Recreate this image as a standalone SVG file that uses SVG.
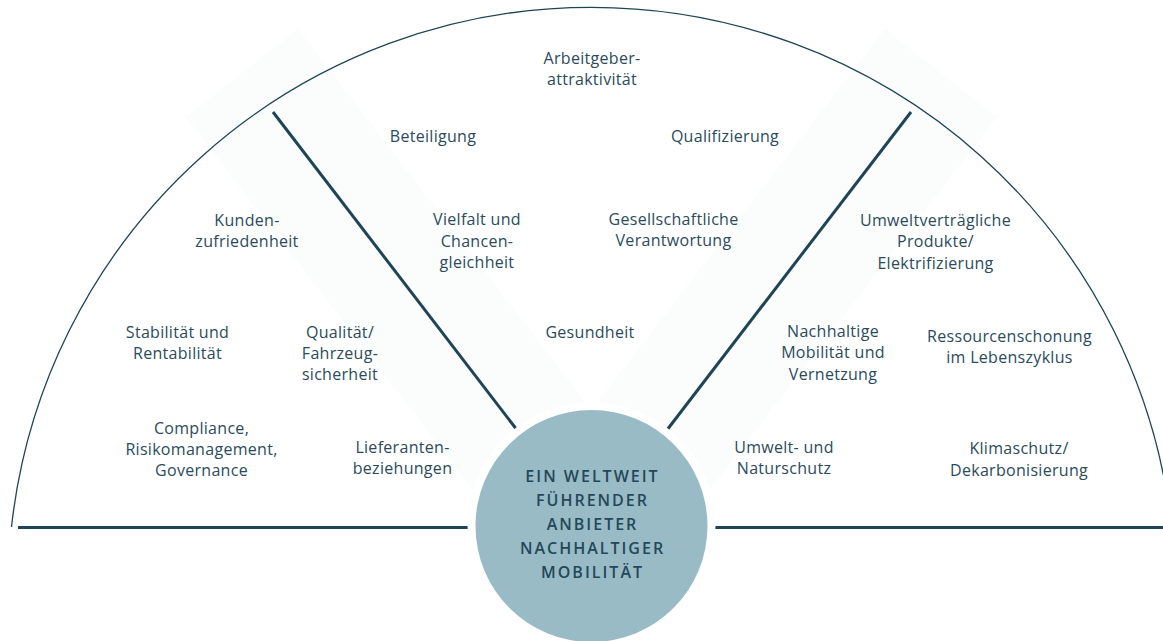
<svg xmlns="http://www.w3.org/2000/svg" width="1163" height="641" viewBox="0 0 1163 641">
<style>
.t{font-family:"Open Sans","Noto Sans","Liberation Sans",sans-serif;font-size:16px;fill:#2b4b5c;text-anchor:middle;letter-spacing:0.3px}
.c{font-family:"Open Sans","Noto Sans","Liberation Sans",sans-serif;font-size:16px;font-weight:600;fill:#24485a;text-anchor:middle;letter-spacing:2px}
.band{fill:#fbfcfc}
.ln{stroke:#1e4455;stroke-width:3;fill:none}
</style>
<rect width="1163" height="641" fill="#ffffff"/>
<g id="background">
<polygon class="band" points="186,117 298,29 603,425 491,513"/>
<polygon class="band" points="997,117 885,29 580,425 692,513"/>
<path d="M 11.5 527 A 583.5 583.5 0 0 1 1171.5 527" fill="none" stroke="#1e4455" stroke-width="1.3"/>
</g>
<g id="connectors">
<line class="ln" x1="273" y1="112" x2="517" y2="430"/>
<line class="ln" x1="911" y1="112" x2="667" y2="430"/>
<line class="ln" x1="18" y1="527.5" x2="468" y2="527.5"/>
<line class="ln" x1="714" y1="527.5" x2="1163" y2="527.5"/>
</g>
<g id="center">
<circle cx="591.5" cy="526" r="124" fill="#ffffff"/>
<circle cx="591.5" cy="526" r="116" fill="#98bbc5"/>
<text class="c" x="592.5" y="482">EIN WELTWEIT</text>
<text class="c" x="592.5" y="506">FÜHRENDER</text>
<text class="c" x="592.5" y="530">ANBIETER</text>
<text class="c" x="592.5" y="554">NACHHALTIGER</text>
<text class="c" x="592.5" y="578">MOBILITÄT</text>
</g>
<g id="arbeitgeber"><text class="t" x="592" y="64">Arbeitgeber-<tspan x="592" dy="21.3">attraktivität</tspan></text></g>
<g id="beteiligung"><text class="t" x="433" y="142">Beteiligung</text></g>
<g id="qualifizierung"><text class="t" x="725" y="142">Qualifizierung</text></g>
<g id="vielfalt"><text class="t" x="477" y="225">Vielfalt und<tspan x="477" dy="21.5">Chancen-</tspan><tspan x="477" dy="21.5">gleichheit</tspan></text></g>
<g id="gesellschaft"><text class="t" x="673.5" y="225">Gesellschaftliche<tspan x="673.5" dy="21.3">Verantwortung</tspan></text></g>
<g id="kunden"><text class="t" x="247" y="226">Kunden-<tspan x="247" dy="21.3">zufriedenheit</tspan></text></g>
<g id="umweltprodukte"><text class="t" x="935.5" y="226">Umweltverträgliche<tspan x="935.5" dy="21.3">Produkte/</tspan><tspan x="935.5" dy="21.3">Elektrifizierung</tspan></text></g>
<g id="stabilitaet"><text class="t" x="177.5" y="337.5">Stabilität und<tspan x="177.5" dy="21">Rentabilität</tspan></text></g>
<g id="qualitaet"><text class="t" x="340" y="337.5">Qualität/<tspan x="340" dy="21">Fahrzeug-</tspan><tspan x="340" dy="21">sicherheit</tspan></text></g>
<g id="gesundheit"><text class="t" x="590" y="338">Gesundheit</text></g>
<g id="mobilitaet"><text class="t" x="833" y="337">Nachhaltige<tspan x="833" dy="21.3">Mobilität und</tspan><tspan x="833" dy="21.3">Vernetzung</tspan></text></g>
<g id="ressourcen"><text class="t" x="1009.5" y="342">Ressourcenschonung<tspan x="1009.5" dy="20.5">im Lebenszyklus</tspan></text></g>
<g id="compliance"><text class="t" x="201.5" y="433.5">Compliance,<tspan x="201.5" dy="21.3">Risikomanagement,</tspan><tspan x="201.5" dy="21.3">Governance</tspan></text></g>
<g id="lieferanten"><text class="t" x="402.5" y="453">Lieferanten-<tspan x="402.5" dy="21.3">beziehungen</tspan></text></g>
<g id="umweltschutz"><text class="t" x="784" y="453">Umwelt- und<tspan x="784" dy="21.3">Naturschutz</tspan></text></g>
<g id="klimaschutz"><text class="t" x="1019" y="453.5">Klimaschutz/<tspan x="1019" dy="22">Dekarbonisierung</tspan></text></g>
</svg>
